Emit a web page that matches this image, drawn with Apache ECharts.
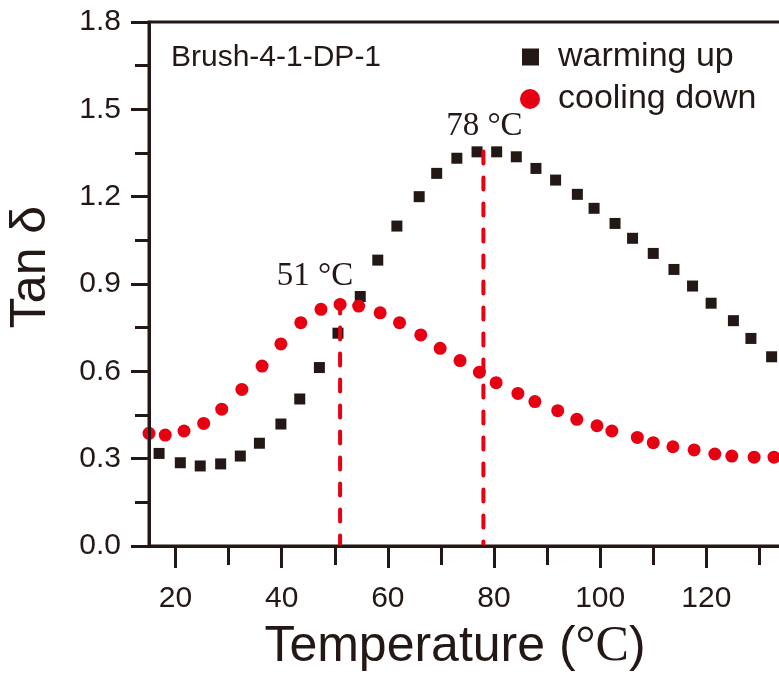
<!DOCTYPE html>
<html>
<head>
<meta charset="utf-8">
<script src="https://cdn.jsdelivr.net/npm/echarts@6/dist/echarts.min.js"></script>
<style>
  html, body { margin: 0; padding: 0; background: #ffffff; }
  #chart { width: 779px; height: 677px; }
</style>
</head>
<body>
<div id="chart"></div>
<script>
// Tan delta versus temperature for the Brush-4-1-DP-1 sample
const warmTemp = [16.9, 20.9, 24.65, 28.5, 32.2, 35.8, 39.85, 43.4, 47.1, 50.6, 54.8, 58.1, 61.7, 65.9, 69.2, 73.0,
                  76.8, 80.5, 84.2, 87.9, 91.6, 95.7, 98.85, 102.8, 106.1, 110.0, 113.9, 117.4, 120.9, 125.1, 128.4, 132.3];
const warmTan = [0.318, 0.286, 0.275, 0.282, 0.309, 0.353, 0.419, 0.505, 0.613, 0.731, 0.857, 0.982, 1.099, 1.200, 1.280, 1.332,
                 1.354, 1.354, 1.337, 1.297, 1.257, 1.208, 1.160, 1.108, 1.057, 1.005, 0.950, 0.893, 0.834, 0.774, 0.713, 0.650];

const coolTemp = [15.0, 18.06, 21.6, 25.3, 28.7, 32.5, 36.3, 39.85, 43.6, 47.4, 51.0, 54.5, 58.55, 62.2, 66.2, 69.85, 73.6,
                  77.25, 80.4, 84.5, 87.7, 92.0, 95.6, 99.4, 102.2, 107.0, 110.0, 113.7, 117.7, 121.6, 124.8, 129.0, 132.75];
const coolTan = [0.387, 0.381, 0.395, 0.421, 0.470, 0.538, 0.618, 0.694, 0.767, 0.813, 0.830, 0.824, 0.801, 0.767, 0.725, 0.679, 0.637,
                 0.597, 0.561, 0.524, 0.496, 0.465, 0.435, 0.413, 0.395, 0.373, 0.355, 0.341, 0.330, 0.316, 0.309, 0.305, 0.305];

// Peak temperatures and the height of their marker lines
const peakTemps = [51, 78];
const peakTan = [0.84, 1.355];

const xMajorTicks = [20, 40, 60, 80, 100, 120];
const xMinorTicks = [30, 50, 70, 90, 110, 130];

const seriesNames = ['warming up', 'cooling down'];
const sampleName = 'Brush-4-1-DP-1';

const INK = '#231815';
const RED = '#e60012';
const SANS = 'Arial, "Liberation Sans", Helvetica, sans-serif';
const SERIF = '"Times New Roman", "Liberation Serif", serif';

const peakLabelOffset = [[-25, 0], [1, 0]];

const zip = (xs, ys) => xs.map((x, i) => [x, ys[i]]);

const chart = echarts.init(document.getElementById('chart'), null, { renderer: 'canvas' });

const peakLineSeries = peakTemps.map((t, i) => ({
  type: 'line',
  name: 'peak ' + t,
  data: [[t, peakTan[i]], [t, 0]],
  showSymbol: false,
  symbol: 'none',
  silent: true,
  z: 4,
  lineStyle: { color: RED, width: 4, type: [12, 14], cap: 'round' }
}));

const peakLabelStyle = {
  show: true, position: 'top', distance: 8,
  formatter: p => p.value[0] + ' °C',
  fontFamily: SERIF, fontSize: 33, color: INK, opacity: 1, textBorderWidth: 0
};

const option = {
  animation: false,
  backgroundColor: '#ffffff',
  grid: {
    left: 149, top: 22, width: 663.5, height: 524,
    outerBoundsMode: 'none', containLabel: false,
    show: true, borderColor: INK, borderWidth: 3, backgroundColor: 'transparent'
  },
  legend: [
    {
      data: [seriesNames[0]], left: 522, top: 40, padding: 0, selectedMode: false,
      icon: 'rect', itemWidth: 17, itemHeight: 17,
      textStyle: { fontSize: 34, fontFamily: SANS, color: INK, lineHeight: 34, padding: [0, 0, 0, 14] }
    },
    {
      data: [seriesNames[1]], left: 520, top: 82, padding: 0, selectedMode: false,
      icon: 'circle', itemWidth: 20, itemHeight: 20,
      textStyle: { fontSize: 34, fontFamily: SANS, color: INK, lineHeight: 34, padding: [0, 0, 0, 13] }
    }
  ],
  xAxis: [
    {
      type: 'value', min: 15, max: 140, position: 'bottom', z: 10,
      axisLine: { show: true, onZero: false, lineStyle: { color: INK, width: 3 } },
      axisTick: { show: true, customValues: xMajorTicks, length: 22, lineStyle: { color: INK, width: 3 } },
      axisLabel: { customValues: xMajorTicks, margin: 38, fontSize: 30, fontFamily: SANS, color: INK },
      splitLine: { show: false }
    },
    {
      type: 'value', min: 15, max: 140, position: 'bottom', gridIndex: 0, z: 10,
      axisLine: { show: false, onZero: false },
      axisTick: { show: true, customValues: xMinorTicks, length: 19, lineStyle: { color: INK, width: 3 } },
      axisLabel: { show: false },
      splitLine: { show: false }
    }
  ],
  yAxis: {
    type: 'value', min: 0, max: 1.8, interval: 0.3, z: 10,
    axisLine: { show: true, onZero: false, lineStyle: { color: INK, width: 3 } },
    axisTick: { show: true, length: 18, lineStyle: { color: INK, width: 3 } },
    minorTick: { show: true, splitNumber: 2, length: 14, lineStyle: { color: INK, width: 3 } },
    axisLabel: { margin: 28, fontSize: 30, fontFamily: SANS, color: INK, formatter: v => v.toFixed(1) },
    splitLine: { show: false },
    minorSplitLine: { show: false }
  },
  series: [
    {
      type: 'scatter', name: seriesNames[0], data: zip(warmTemp, warmTan),
      symbol: 'rect', symbolSize: 11, itemStyle: { color: INK, opacity: 1 }, z: 2
    },
    {
      type: 'scatter', name: seriesNames[1], data: zip(coolTemp, coolTan),
      symbol: 'circle', symbolSize: 13, itemStyle: { color: RED, opacity: 1 }, z: 3
    },
    ...peakLineSeries,
    {
      type: 'scatter', name: 'peak labels', symbolSize: 1, silent: true, z: 5,
      itemStyle: { color: 'rgba(0,0,0,0)' },
      data: peakTemps.map((t, i) => ({
        value: [t, peakTan[i]],
        label: Object.assign({}, peakLabelStyle, { offset: peakLabelOffset[i] })
      })),
      label: peakLabelStyle
    }
  ],
  graphic: [
    {
      type: 'text', x: 171, y: 57.5, silent: true,
      style: { text: sampleName, fontSize: 30, fontFamily: SANS, fill: INK, align: 'left', verticalAlign: 'middle' }
    },
    {
      type: 'text', x: 31.5, y: 267, rotation: Math.PI / 2, silent: true,
      style: { text: 'Tan δ', fontSize: 50, fontFamily: SANS, fill: INK, align: 'center', verticalAlign: 'middle' }
    },
    {
      type: 'text', x: 455, y: 647, silent: true,
      style: {
        text: '{a|Temperature (}{b|°C}{a|)}',
        fill: INK, align: 'center', verticalAlign: 'middle',
        rich: {
          a: { fontSize: 50, fontFamily: SANS, fill: INK },
          b: { fontSize: 50, fontFamily: SERIF, fill: INK }
        }
      }
    }
  ]
};

chart.setOption(option);
</script>
</body>
</html>
